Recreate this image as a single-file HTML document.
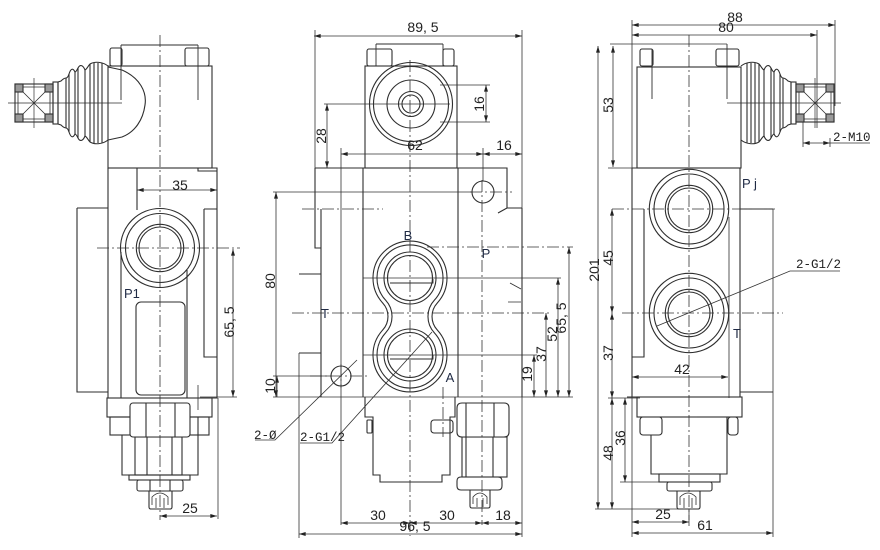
<!DOCTYPE html>
<html><head><meta charset="utf-8">
<style>
html,body{margin:0;padding:0;background:#fff;}
svg{display:block}
text{font-family:"Liberation Sans",Arial,sans-serif;font-size:14px;fill:#222}
.m{font-family:"Liberation Mono",monospace;font-size:12.5px}
.l{fill:#1f2a44;font-size:13px}
</style></head><body>
<svg width="880" height="550" viewBox="0 0 880 550" xmlns="http://www.w3.org/2000/svg">
<defs>
<marker id="a" viewBox="0 0 10 6" refX="10" refY="3" markerWidth="8" markerHeight="4" orient="auto-start-reverse" markerUnits="userSpaceOnUse"><path d="M0,0L10,3L0,6z" fill="#222"/></marker>
<g id="boot">
<path d="M108,66C103,62 95,61 90,64C88,66 87,69 85,70C83,65 80,64 78,68C77,70 76,72 75,72C73,68 71,68 69,74C68,77 67,78 66,78C64,78 62,80 61,81L58,82V124L61,125C62,126 64,128 66,128C67,128 68,129 69,132C71,138 73,138 75,134C76,134 77,136 78,138C80,142 83,141 85,136C87,137 88,140 90,142C95,145 103,144 108,140"/>
<path d="M85,70V136M78,68V138M75,72V134M69,74V132M66,78V128M90,64V142M94,63V143M98,63V143M102,63V143"/>
<rect x="53" y="82" width="5" height="42"/>
<rect x="15" y="84" width="38" height="38"/>
<rect x="15" y="84" width="8" height="8" fill="#999"/>
<rect x="45" y="84" width="8" height="8" fill="#999"/>
<rect x="15" y="114" width="8" height="8" fill="#999"/>
<rect x="45" y="114" width="8" height="8" fill="#999"/>
<path d="M23,92L45,114M45,92L23,114M23,87H45M23,119H45M18,92V114M50,92V114" stroke-width="0.8"/>
<path d="M8,103H122M34,78V128" stroke-width="0.7"/>
</g>
</defs>

<!-- ===================== LEFT VIEW ===================== -->
<g fill="none" stroke="#2e2e2e" stroke-width="1.1">
<rect x="110" y="48" width="12" height="18" rx="2"/>
<rect x="185" y="48" width="24" height="18" rx="2"/>
<path d="M121,45H198M121,45V100M198,45V100" stroke-width="0.9"/>
<rect x="108" y="66" width="104" height="102"/>
<path d="M108,67L122,70C140,78 147,92 145,105C143,120 135,132 122,137L108,140"/>
<use href="#boot"/>
<path d="M108,168H217V398H107M108,168V398M198,168V171H217"/>
<path d="M137,168V210"/>
<path d="M204,209H217M204,209V357H217"/>
<path d="M77,208H108M77,208V392H108"/>
<path d="M121,252V398M187,270V398"/>
<circle cx="160" cy="248" r="39.5"/>
<circle cx="160" cy="248" r="34.5"/>
<circle cx="160" cy="248" r="23.7"/>
<circle cx="160" cy="248" r="21"/>
<rect x="136" y="302" width="49" height="93" rx="5"/>
<rect x="107" y="398" width="105" height="19"/>
<rect x="110" y="417" width="99" height="18"/>
<path d="M122,435V475H198V417"/>
<rect x="135" y="437" width="47" height="38" fill="#fff"/>
<path d="M147,437V475M172,437V475"/>
<rect x="130" y="403" width="60" height="34" rx="3" fill="#fff"/>
<path d="M146,403V437M175,403V437"/>
<rect x="129" y="475" width="61" height="5"/>
<rect x="137" y="480" width="46" height="11" rx="2"/>
<path d="M150,480V491M170,480V491"/>
<path d="M149,491V507Q149,509 151,509H170Q172,509 172,507V491"/>
<path d="M152,505V497Q160,489 168,497V505M156,498V508M164,498V508" stroke-width="0.8"/>
</g>
<g fill="none" stroke="#333" stroke-width="0.8">
<path d="M160,35V520M97,248H240" stroke-dasharray="12,3,2,3"/>
<path d="M137,190H217" marker-start="url(#a)" marker-end="url(#a)"/>
<path d="M233,249V397" marker-start="url(#a)" marker-end="url(#a)"/>
<path d="M200,397H237M198,385V410"/>
<path d="M218,398V519"/>
<path d="M160,516H217" marker-start="url(#a)" marker-end="url(#a)"/>
</g>
<text x="180" y="190" text-anchor="middle">35</text>
<text transform="translate(234,322) rotate(-90)" text-anchor="middle">65, 5</text>
<text x="190" y="513" text-anchor="middle">25</text>
<text x="124" y="298" class="l">P1</text>

<!-- ===================== MIDDLE VIEW ===================== -->
<g fill="none" stroke="#2e2e2e" stroke-width="1.1">
<rect x="367" y="49" width="25" height="17" rx="2"/>
<rect x="443" y="49" width="11" height="17" rx="2"/>
<path d="M376,44H443M376,44V66M443,44V66" stroke-width="0.9"/>
<rect x="365" y="66" width="92" height="102"/>
<circle cx="411" cy="104" r="41.5"/>
<circle cx="411" cy="104" r="37.5"/>
<circle cx="411" cy="104" r="24"/>
<circle cx="411" cy="104" r="12.5"/>
<circle cx="411" cy="104" r="9"/>
<path d="M315,168H507V208H522M498,213L507,208"/>
<path d="M363,168V397M458,168V397"/>
<path d="M315,168V248H321M321,209V397"/>
<path d="M299,274H321M299,353H321"/>
<path d="M522,208V397"/>
<path d="M510,283L521,289M508,302H521" stroke-width="0.8"/>
<circle cx="483" cy="192" r="11"/>
<path d="M437.3,303A37,37 0 1 0 382.7,303A19.9,19.9 0 0 1 382.7,330A37,37 0 1 0 437.3,330A19.9,19.9 0 0 1 437.3,303Z"/>
<path d="M434.3,300.3A33,33 0 1 0 385.7,300.3A23.9,23.9 0 0 1 385.7,332.7A33,33 0 1 0 434.3,332.7A23.9,23.9 0 0 1 434.3,300.3Z"/>
<circle cx="410" cy="278" r="26"/>
<circle cx="410" cy="278" r="22.5"/>
<circle cx="410" cy="355" r="26"/>
<circle cx="410" cy="355" r="22.5"/>
<path d="M390,283H433V279M390,359H433V355" stroke-width="0.9"/>
<circle cx="341" cy="376" r="10"/>
<path d="M365,397V417H373V475H380V482H442V475H450V417H455V397"/>
<rect x="367" y="420" width="5" height="13" rx="1"/>
<rect x="431" y="420" width="22" height="13" rx="3"/>
<rect x="462" y="437" width="45" height="40"/>
<path d="M466,437V477M493,437V477"/>
<path d="M457,408Q457,403 462,403H504Q509,403 509,408V432Q509,437 504,437H462Q457,437 457,432Z" fill="#fff"/>
<path d="M466,403V437M494,403V437"/>
<path d="M457,481Q457,477 461,477H498Q502,477 502,481V486Q502,490 498,490H461Q457,490 457,486Z"/>
<path d="M470,490V506Q470,508 472,508H488Q490,508 490,506V490"/>
<path d="M473,504V497Q480,489 487,497V504M477,498V507M483,498V507" stroke-width="0.8"/>
</g>
<g fill="none" stroke="#333" stroke-width="0.8">
<path d="M410,60V536M482,180V525M302,209H383M292,313H550M427,247H573M470,192H512M310,376H367M341,364V388M443,387V437" stroke-dasharray="12,3,2,3"/>
<path d="M314,36H522" marker-start="url(#a)" marker-end="url(#a)"/>
<path d="M315,30V168M522,30V208M522,397V537M299,353V538"/>
<path d="M440,85H490M440,122H490"/>
<path d="M486,85V122" marker-start="url(#a)" marker-end="url(#a)"/>
<path d="M324,104H450"/>
<path d="M327,104V168" marker-start="url(#a)" marker-end="url(#a)"/>
<path d="M341,154H483" marker-start="url(#a)" marker-end="url(#a)"/>
<path d="M483,154H522" marker-start="url(#a)" marker-end="url(#a)"/>
<path d="M341,148V525M483,148V181"/>
<path d="M273,192H472"/>
<path d="M276,192V397" marker-start="url(#a)" marker-end="url(#a)"/>
<path d="M273,376H331"/>
<path d="M277,376V397" marker-start="url(#a)"/>
<path d="M273,397H573"/>
<path d="M363,278H561M363,355H537"/>
<path d="M534,355V397" marker-start="url(#a)" marker-end="url(#a)"/>
<path d="M546,313V397" marker-start="url(#a)" marker-end="url(#a)"/>
<path d="M558,278V397" marker-start="url(#a)" marker-end="url(#a)"/>
<path d="M569,247V397" marker-start="url(#a)" marker-end="url(#a)"/>
<path d="M341,523H410" marker-start="url(#a)" marker-end="url(#a)"/>
<path d="M410,523H482" marker-start="url(#a)" marker-end="url(#a)"/>
<path d="M482,523H522" marker-start="url(#a)" marker-end="url(#a)"/>
<path d="M299,534H522" marker-start="url(#a)" marker-end="url(#a)"/>
<path d="M255,440H275L357,360"/>
<path d="M300,443H332L432,332"/>
</g>
<text x="423" y="32" text-anchor="middle">89, 5</text>
<text transform="translate(484,104) rotate(-90)" text-anchor="middle">16</text>
<text transform="translate(326,136) rotate(-90)" text-anchor="middle">28</text>
<text x="415" y="150" text-anchor="middle">62</text>
<text x="504" y="150" text-anchor="middle">16</text>
<text transform="translate(275,281) rotate(-90)" text-anchor="middle">80</text>
<text transform="translate(275,386) rotate(-90)" text-anchor="middle">10</text>
<text transform="translate(532,374) rotate(-90)" text-anchor="middle">19</text>
<text transform="translate(546,354) rotate(-90)" text-anchor="middle">37</text>
<text transform="translate(557,334) rotate(-90)" text-anchor="middle">52</text>
<text transform="translate(566,318) rotate(-90)" text-anchor="middle">65, 5</text>
<text x="378" y="520" text-anchor="middle">30</text>
<text x="447" y="520" text-anchor="middle">30</text>
<text x="503" y="520" text-anchor="middle">18</text>
<text x="415" y="531" text-anchor="middle">96, 5</text>
<text x="408" y="240" class="l" text-anchor="middle">B</text>
<text x="486" y="258" class="l" text-anchor="middle">P</text>
<text x="325" y="318" class="l" text-anchor="middle">T</text>
<text x="450" y="382" class="l" text-anchor="middle">A</text>
<text x="254" y="439" class="m">2-Ø</text>
<text x="300" y="441" class="m">2-G1/2</text>

<!-- ===================== RIGHT VIEW ===================== -->
<g fill="none" stroke="#2e2e2e" stroke-width="1.1">
<rect x="640" y="49" width="13" height="17" rx="2"/>
<rect x="716" y="49" width="23" height="17" rx="2"/>
<path d="M652,49V99M727,44V99" stroke-width="0.9"/>
<rect x="637" y="67" width="104" height="101"/>
<use href="#boot" transform="matrix(-1,0,0,1,849,0)"/>
<path d="M632,168H740V397M632,168V397M627,397H742"/>
<path d="M644,209V357H632"/>
<path d="M740,209H773M740,392H773"/>
<path d="M729,217V398" stroke-width="0.8"/>
<circle cx="689" cy="209" r="39.7"/>
<circle cx="689" cy="209" r="35"/>
<circle cx="689" cy="209" r="23.7"/>
<circle cx="689" cy="209" r="21"/>
<circle cx="689" cy="313" r="39.7"/>
<circle cx="689" cy="313" r="35"/>
<circle cx="689" cy="313" r="23.7"/>
<circle cx="689" cy="313" r="21"/>
<rect x="637" y="397" width="105" height="20"/>
<rect x="640" y="417" width="22" height="18" rx="3"/>
<rect x="728" y="417" width="10" height="18" rx="3"/>
<path d="M651,435V474H727V417"/>
<rect x="659" y="474" width="61" height="8"/>
<rect x="667" y="482" width="45" height="9" rx="2"/>
<path d="M677,491V507Q677,509 679,509H698Q700,509 700,507V491"/>
<path d="M680,505V497Q688,489 696,497V505M684,498V508M692,498V508" stroke-width="0.8"/>
</g>
<g fill="none" stroke="#333" stroke-width="0.8">
<path d="M689,35V520M612,209H775M622,313H783M690,417H697" stroke-dasharray="12,3,2,3"/>
<path d="M632,25H835" marker-start="url(#a)" marker-end="url(#a)"/>
<path d="M632,35H817" marker-start="url(#a)" marker-end="url(#a)"/>
<path d="M632,20V168M632,397V537M835,20V106M817,30V128M773,209V537"/>
<path d="M803,122V147M830,138V147"/>
<path d="M803,143H830" marker-start="url(#a)" marker-end="url(#a)"/>
<path d="M830,143H870"/>
<path d="M610,44H727M608,168H637"/>
<path d="M613,46V167" marker-start="url(#a)" marker-end="url(#a)"/>
<path d="M598,46V509" marker-start="url(#a)" marker-end="url(#a)"/>
<path d="M612,209V313" marker-start="url(#a)" marker-end="url(#a)"/>
<path d="M612,313V398" marker-start="url(#a)" marker-end="url(#a)"/>
<path d="M608,398H640M620,482H660M595,509H680"/>
<path d="M625,398V482" marker-start="url(#a)" marker-end="url(#a)"/>
<path d="M612,398V509" marker-start="url(#a)" marker-end="url(#a)"/>
<path d="M632,377H728" marker-start="url(#a)" marker-end="url(#a)"/>
<path d="M632,522H689" marker-start="url(#a)" marker-end="url(#a)"/>
<path d="M632,533H773" marker-start="url(#a)" marker-end="url(#a)"/>
<path d="M689,509V526"/>
<path d="M657,326L790,271H840"/>
</g>
<text x="735" y="22" text-anchor="middle">88</text>
<text x="726" y="32" text-anchor="middle">80</text>
<text x="833" y="141" class="m">2-M10</text>
<text transform="translate(613,105) rotate(-90)" text-anchor="middle">53</text>
<text transform="translate(599,270) rotate(-90)" text-anchor="middle">201</text>
<text transform="translate(613,258) rotate(-90)" text-anchor="middle">45</text>
<text transform="translate(613,353) rotate(-90)" text-anchor="middle">37</text>
<text transform="translate(625,438) rotate(-90)" text-anchor="middle">36</text>
<text transform="translate(613,453) rotate(-90)" text-anchor="middle">48</text>
<text x="682" y="374" text-anchor="middle">42</text>
<text x="663" y="519" text-anchor="middle">25</text>
<text x="705" y="530" text-anchor="middle">61</text>
<text x="796" y="268" class="m">2-G1/2</text>
<text x="742" y="188" class="l">P j</text>
<text x="737" y="338" class="l" text-anchor="middle">T</text>
</svg>
</body></html>
